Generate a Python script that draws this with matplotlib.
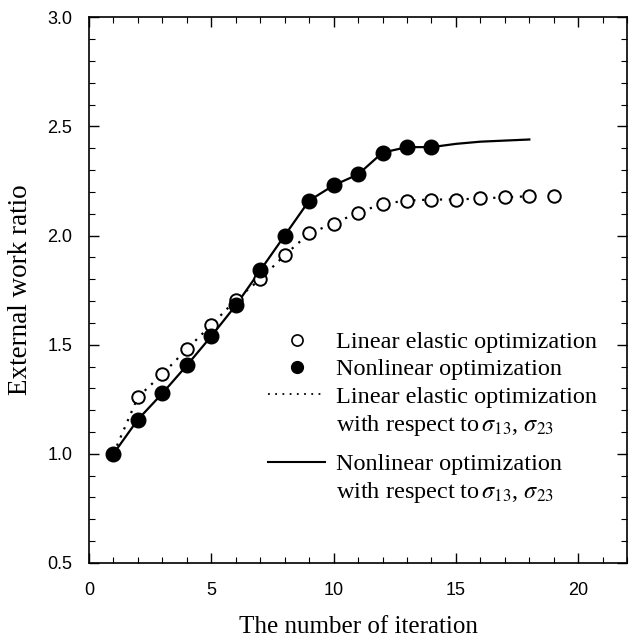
import numpy as np
import matplotlib
matplotlib.use("Agg")
import matplotlib.pyplot as plt
from matplotlib.lines import Line2D
from matplotlib.ticker import MultipleLocator

plt.rcParams['mathtext.fontset'] = 'stix'

# iteration results
iter_linear = [1, 2, 3, 4, 5, 6, 7, 8, 9, 10, 11, 12, 13, 14, 15, 16, 17, 18, 19]
ratio_linear = [1.0, 1.26, 1.365, 1.48, 1.59, 1.705, 1.80, 1.91, 2.01, 2.055,
                2.105, 2.145, 2.16, 2.165, 2.165, 2.17, 2.175, 2.18, 2.18]

iter_nonlinear = [1, 2, 3, 4, 5, 6, 7, 8, 9, 10, 11, 12, 13, 14]
ratio_nonlinear = [1.0, 1.157, 1.277, 1.405, 1.539, 1.68, 1.84, 2.0, 2.16,
                   2.23, 2.28, 2.38, 2.405, 2.405]

# curves w.r.t. sigma13, sigma23
iter_linear_curve = iter_linear[:18]
ratio_linear_curve = ratio_linear[:18]
iter_nonlinear_curve = [1, 2, 3, 4, 5, 6, 7, 8, 9, 10, 11, 12, 13, 14, 15, 16, 17, 18]
ratio_nonlinear_curve = [1.0, 1.157, 1.277, 1.405, 1.539, 1.68, 1.84, 2.0, 2.16,
                         2.23, 2.28, 2.38, 2.405, 2.405, 2.42, 2.43, 2.435, 2.44]

fig = plt.figure(figsize=(6.31, 6.39), dpi=100)
ax = fig.add_axes([0.141, 0.119, 0.853, 0.854])

ax.plot(iter_linear_curve, ratio_linear_curve, color='black', lw=1.6,
        linestyle=(0, (1, 3)))
ax.plot(iter_nonlinear_curve, ratio_nonlinear_curve, color='black', lw=1.6)
ax.plot(iter_linear, ratio_linear, 'o', mfc='white', mec='black', mew=1.4, ms=9)
ax.plot(iter_nonlinear, ratio_nonlinear, 'o', color='black', ms=10.5)

ax.set_xlim(0, 22)
ax.set_ylim(0.5, 3.0)
ax.xaxis.set_major_locator(MultipleLocator(5))
ax.xaxis.set_minor_locator(MultipleLocator(1))
ax.yaxis.set_major_locator(MultipleLocator(0.5))
ax.yaxis.set_minor_locator(MultipleLocator(0.1))
ax.yaxis.set_major_formatter(plt.FormatStrFormatter('%.1f'))
ax.tick_params(which='both', direction='in', top=True, right=True)
ax.tick_params(which='major', length=7, width=1)
ax.tick_params(which='minor', length=4, width=0.8)
ax.tick_params(axis='x', which='both', labelsize=13, pad=14)
ax.tick_params(axis='y', which='both', labelsize=13, pad=12)
for lab in ax.get_xticklabels() + ax.get_yticklabels():
    lab.set_fontfamily('Liberation Sans')
for sp in ax.spines.values():
    sp.set_linewidth(1.2)

ax.set_xlabel('The number of iteration', fontfamily='Liberation Serif',
              fontsize=18, labelpad=12)
ax.set_ylabel('External work ratio', fontfamily='Liberation Serif',
              fontsize=19.5, labelpad=10)

legend_font = {'family': 'Liberation Serif', 'size': 17.5}
legend_kw = dict(loc='upper left', frameon=False, prop=legend_font,
                 handlelength=2.35, handletextpad=0.42, labelspacing=0.22,
                 borderpad=0, borderaxespad=0)

# marker entries plus the linear elastic curve
upper = ax.legend(
    [Line2D([], [], ls='none', marker='o', mfc='white', mec='black', mew=1.2, ms=8),
     Line2D([], [], ls='none', marker='o', color='black', ms=8.5),
     Line2D([], [], color='black', lw=1.3, linestyle=(0, (1, 3))),
     Line2D([], [], ls='none')],
    ['Linear elastic optimization',
     'Nonlinear optimization',
     'Linear elastic optimization',
     r'with respect to$\,\sigma_{13}$, $\sigma_{23}$'],
    bbox_to_anchor=(0.333, 0.425), **legend_kw)
ax.add_artist(upper)

# nonlinear curve entry
ax.legend(
    [Line2D([], [], color='black', lw=1.5), Line2D([], [], ls='none')],
    ['Nonlinear optimization',
     r'with respect to$\,\sigma_{13}$, $\sigma_{23}$'],
    bbox_to_anchor=(0.333, 0.2015), **legend_kw)

fig.savefig('out.png', dpi=100)
